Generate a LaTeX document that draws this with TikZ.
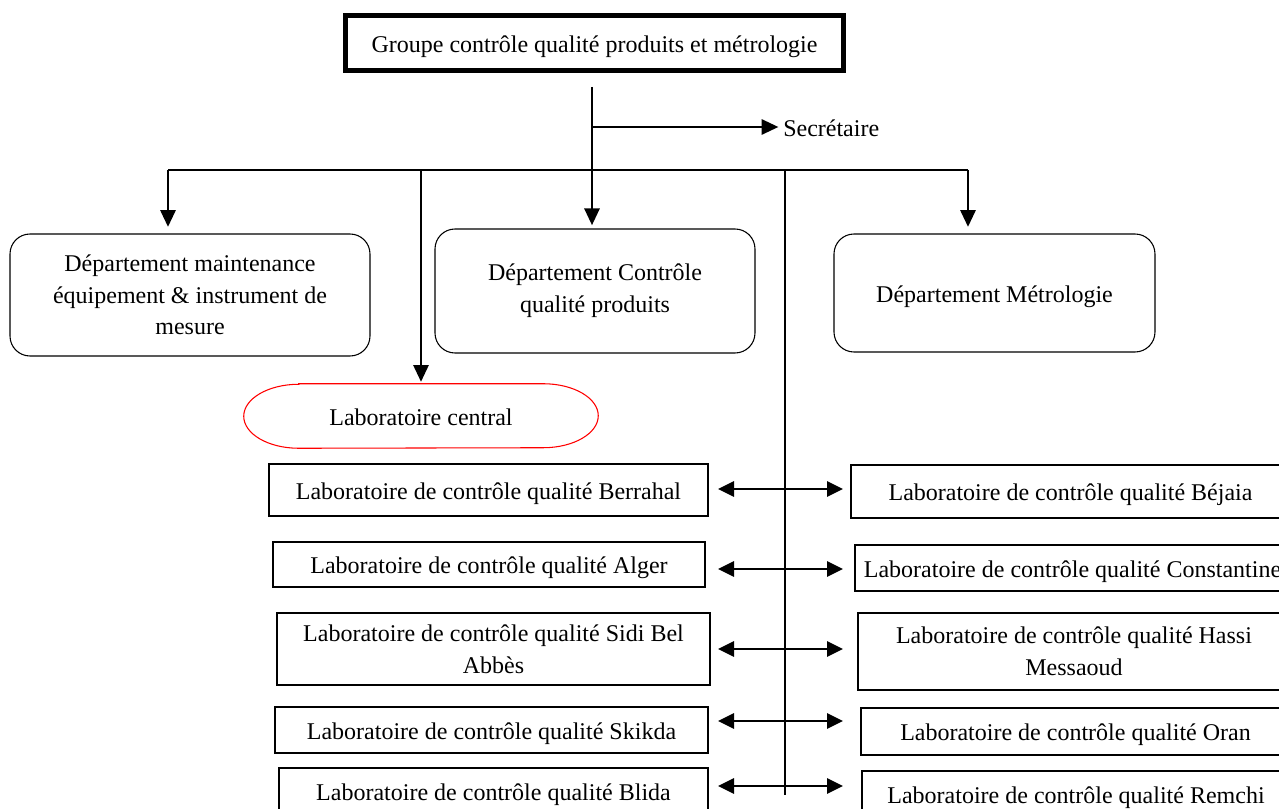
\documentclass[tikz,border=0pt]{standalone}
\usepackage{fontspec}
\setmainfont{Liberation Serif}
\usetikzlibrary{arrows.meta,calc}
\begin{document}
\begin{tikzpicture}[x=0.75pt,y=-0.75pt,
  every node/.style={font=\fontsize{18pt}{23.8pt}\selectfont, inner sep=0pt, align=center},
  oneline/.style={text height=17pt, text depth=3pt},
  size/.style 2 args={minimum width={0.75pt*#1}, minimum height={0.75pt*#2}},
  conn/.style={line width=1.3pt},
  arr/.style={conn,-{Triangle[length=12.5pt,width=11.5pt]}},
  dbl/.style={conn,{Triangle[length=12pt,width=11.5pt]}-{Triangle[length=12pt,width=11.5pt]}},
  deptbox/.style={draw, line width=0.8pt, rounded corners=15pt},
  labbox/.style={draw, line width=0.8pt},
]
\useasboundingbox (0,0) rectangle (1279,809);
\clip (0,0) rectangle (1279,809);

% head of the group
\node[draw, line width=3.75pt, oneline, size={498}{55}] (grp) at (594.5,43)
  {Groupe contrôle qualité produits et métrologie};

% departments
\node[deptbox, size={360}{122}] (maint) at (190,295)
  {Département maintenance\\équipement \& instrument de\\mesure};
\node[deptbox, size={320}{124}] (ctrl) at (595,291)
  {Département Contrôle\\qualité produits};
\node[deptbox, oneline, size={321}{118}] (metro) at (994.5,293)
  {Département Métrologie};

% central laboratory (flat top, elliptic ends)
\node[oneline, size={354}{64}] (lc) at (421,416) {Laboratoire central};
\draw[red, line width=0.8pt]
  ($(lc.north west)+(55,0)$) -- ($(lc.north east)+(-55,0)$)
  arc[start angle=90, end angle=-90, x radius=41.25pt, y radius=24pt]
  -- ($(lc.south west)+(55,0)$)
  arc[start angle=270, end angle=90, x radius=41.25pt, y radius=24pt]
  -- cycle;

% secretary
\node[anchor=west, oneline] (sec) at (783,127) {Secrétaire};

% regional laboratories, left column
\node[labbox, oneline, size={439}{52}] (berr)  at (488.5,490) {Laboratoire de contrôle qualité Berrahal};
\node[labbox, oneline, size={432}{45}] (alger) at (489,564.5) {Laboratoire de contrôle qualité Alger};
\node[labbox, size={433}{72}] (sidi)  at (493.5,649) {Laboratoire de contrôle qualité Sidi Bel\\Abbès};
\node[labbox, oneline, size={433}{46}] (skik)  at (491.5,730) {Laboratoire de contrôle qualité Skikda};
\node[labbox, oneline, size={429}{46}] (blida) at (493.5,791) {Laboratoire de contrôle qualité Blida};

% regional laboratories, right column
\node[labbox, oneline, size={439}{53}] (bej)   at (1070.5,491.5) {Laboratoire de contrôle qualité Béjaia};
\node[labbox, oneline, size={435}{46}] (const) at (1072.5,568) {Laboratoire de contrôle qualité Constantine};
\node[labbox, size={432}{77}] (hassi) at (1074,651.5) {Laboratoire de contrôle qualité Hassi\\Messaoud};
\node[labbox, oneline, size={429}{47}] (oran)  at (1075.5,731.5) {Laboratoire de contrôle qualité Oran};
\node[labbox, oneline, size={428}{46}] (remchi) at (1076,794) {Laboratoire de contrôle qualité Remchi};

% trunk and distribution bar
\coordinate (top) at (592,87);
\coordinate (tee) at (592,127);
\coordinate (barL) at (168,170);
\coordinate (barC) at (421,170);
\coordinate (barV) at (785,170);
\coordinate (barR) at (968,170);
\coordinate (vend) at (785,795);

\draw[arr, shorten >=2.5pt] (top) -- (top |- ctrl.north);
\draw[arr, shorten >=3.5pt] (tee) -- (sec.west);
\draw[conn] (barL) -- (barR);
\draw[arr, shorten >=5pt] (barL) -- (barL |- maint.north);
\draw[arr, shorten >=1.5pt] (barC) -- (lc.north);
\draw[arr, shorten >=5pt] (barR) -- (barR |- metro.north);
\draw[conn] (barV) -- (vend);

% links between the laboratories
\foreach \n/\y in {1/489, 2/569, 3/649, 4/721, 5/786} {
  \coordinate (l\n) at (718,\y);
  \coordinate (r\n) at (843,\y);
  \draw[dbl] (l\n) -- (r\n);
}
\end{tikzpicture}
\end{document}
